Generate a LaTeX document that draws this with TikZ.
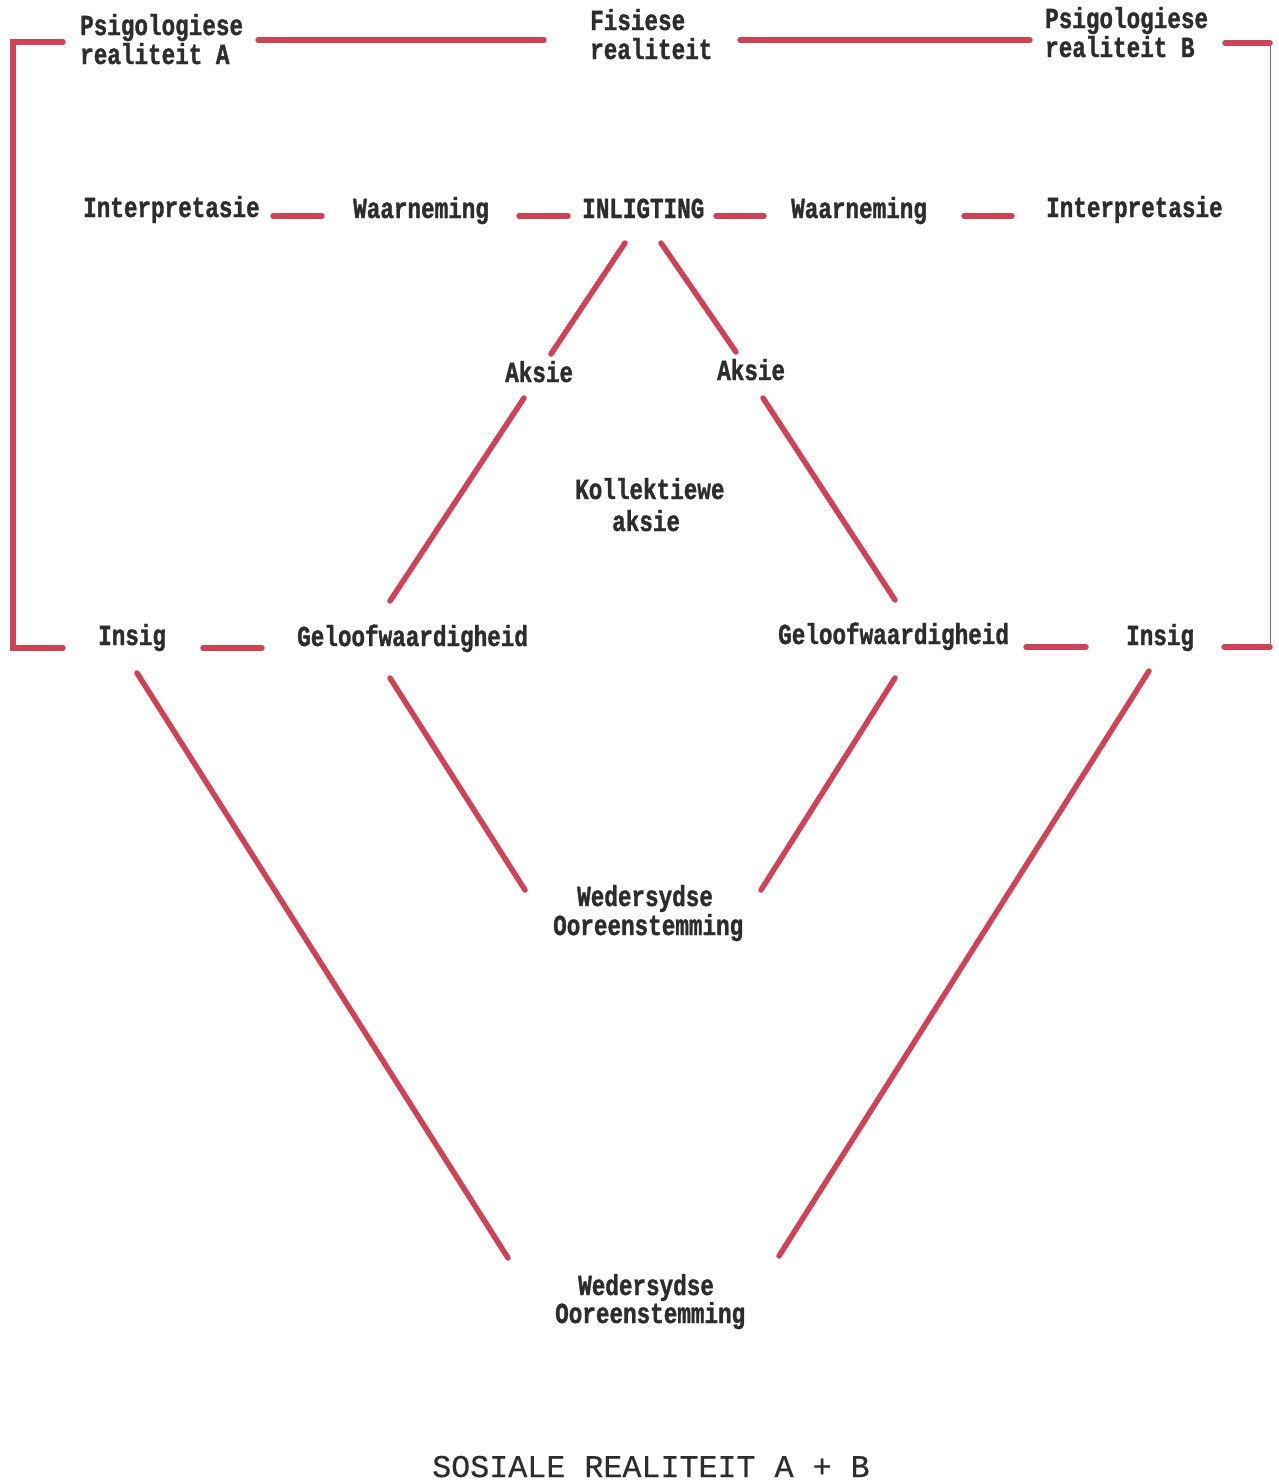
\documentclass[tikz,border=0pt]{standalone}
\usepackage{fontspec}
\newfontfamily\twb[FakeStretch=0.78,FakeBold=1.2]{Liberation Mono}
\newfontfamily\twr[FakeBold=0.4]{Liberation Mono}
\definecolor{lred}{RGB}{204,68,88}
\definecolor{ink}{RGB}{45,45,45}
\tikzset{
  lbl/.style={inner sep=0pt, anchor=base west, align=left, text=ink,
    font=\twb\bfseries\fontsize{29}{29}\selectfont},
  link/.style={draw=lred, line width=5.5pt, line cap=round},
  edgeline/.style={draw=lred!60!gray, line width=1pt}
}
\begin{document}
\begin{tikzpicture}[x=1pt,y=-1pt]
\useasboundingbox (0,0) rectangle (1279,1481);
\fill[white] (0,0) rectangle (1279,1481);

% labels (multi-line nodes: base = baseline of last line)
\node[lbl] (psA) at (80,64) {Psigologiese\\realiteit A};
\node[lbl] (fis) at (590,59) {Fisiese\\realiteit};
\node[lbl] (psB) at (1045,57) {Psigologiese\\realiteit B};

\node[lbl] (intA) at (83,217) {Interpretasie};
\node[lbl] (waA) at (353,218) {Waarneming};
\node[lbl] (inl) at (582,218) {INLIGTING};
\node[lbl] (waB) at (791,218) {Waarneming};
\node[lbl] (intB) at (1046,217) {Interpretasie};

\node[lbl] (akA) at (505,382) {Aksie};
\node[lbl] (akB) at (717,380) {Aksie};

\node[lbl, font=\twb\bfseries\fontsize{29}{32}\selectfont] (kol) at (575,531) {Kollektiewe\\\hspace*{37pt}aksie};

\node[lbl] (insA) at (98,645) {Insig};
\node[lbl] (gelA) at (297,646) {Geloofwaardigheid};
\node[lbl] (gelB) at (778,644) {Geloofwaardigheid};
\node[lbl] (insB) at (1126,645) {Insig};

\node[lbl] (wedM) at (553,935) {\hspace*{24pt}Wedersydse\\Ooreenstemming};
\node[lbl, font=\twb\bfseries\fontsize{29}{28}\selectfont] (wedB) at (555,1323) {\hspace*{23pt}Wedersydse\\Ooreenstemming};

\node[inner sep=0pt, anchor=base west, text=ink, font=\twr\fontsize{31.7}{32}\selectfont]
  (title) at (432,1477) {SOSIALE REALITEIT A + B};

% line end points
\coordinate (bTL) at (63,42);  \coordinate (bTLc) at (13,42);
\coordinate (bBLc) at (13,648); \coordinate (bBL) at (63,648);
\coordinate (t1a) at (258,40);  \coordinate (t1b) at (544,40);
\coordinate (t2a) at (740,40);  \coordinate (t2b) at (1030,40);
\coordinate (t3a) at (1225,43); \coordinate (t3b) at (1270,43);
\coordinate (rB) at (1270,646);

\coordinate (r1a) at (273,216); \coordinate (r1b) at (322,216);
\coordinate (r2a) at (519,216); \coordinate (r2b) at (568,216);
\coordinate (r3a) at (716,216); \coordinate (r3b) at (764,216);
\coordinate (r4a) at (964,216); \coordinate (r4b) at (1012,216);

\coordinate (d1a) at (625,243); \coordinate (d1b) at (551,354);
\coordinate (d2a) at (661,243); \coordinate (d2b) at (736,352);
\coordinate (d3a) at (524,398); \coordinate (d3b) at (390,601);
\coordinate (d4a) at (763,398); \coordinate (d4b) at (895,600);

\coordinate (i1a) at (203,648); \coordinate (i1b) at (262,648);
\coordinate (i2a) at (1026,647); \coordinate (i2b) at (1086,647);
\coordinate (i3a) at (1224,647); \coordinate (i3b) at (1270,647);

\coordinate (e1a) at (137,673); \coordinate (e1b) at (508,1258);
\coordinate (e2a) at (390,678); \coordinate (e2b) at (525,890);
\coordinate (e3a) at (895,678); \coordinate (e3b) at (761,890);
\coordinate (e4a) at (1149,671); \coordinate (e4b) at (779,1256);

% connectors
\draw[link] (bTL) -- (bTLc) -- (bBLc) -- (bBL);
\draw[link] (t1a) -- (t1b);
\draw[link] (t2a) -- (t2b);
\draw[link] (t3a) -- (t3b);
\draw[edgeline] (t3b) -- (rB);

\draw[link] (r1a) -- (r1b);
\draw[link] (r2a) -- (r2b);
\draw[link] (r3a) -- (r3b);
\draw[link] (r4a) -- (r4b);

\draw[link] (d1a) -- (d1b);
\draw[link] (d2a) -- (d2b);
\draw[link] (d3a) -- (d3b);
\draw[link] (d4a) -- (d4b);

\draw[link] (i1a) -- (i1b);
\draw[link] (i2a) -- (i2b);
\draw[link] (i3a) -- (i3b);

\draw[link] (e1a) -- (e1b);
\draw[link] (e2a) -- (e2b);
\draw[link] (e3a) -- (e3b);
\draw[link] (e4a) -- (e4b);
\end{tikzpicture}
\end{document}
